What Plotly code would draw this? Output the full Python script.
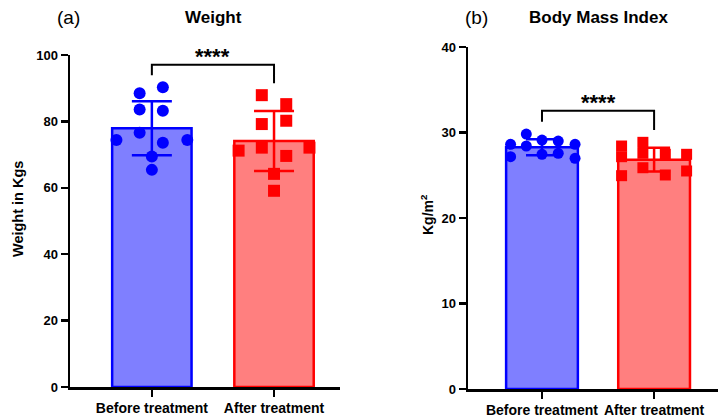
import numpy as np
import plotly.graph_objects as go

# ---- data ----
groups = ["Before treatment", "After treatment"]
weight_before = [88.5, 90.3, 83.6, 83.2, 76.6, 74.4, 73.6, 74.4, 69.4, 65.4]
weight_after = [87.9, 85.2, 79.2, 80.2, 71.2, 72.1, 69.6, 72.1, 64.2, 59.1]
bmi_before = [28.62, 27.17, 29.82, 28.42, 29.12, 27.45, 29.0, 27.57, 28.62, 26.98]
bmi_after = [28.42, 27.17, 24.95, 28.85, 27.57, 25.88, 27.45, 25.03, 27.45, 25.5]
weight_ticks = [0, 20, 40, 60, 80, 100]
bmi_ticks = [0, 10, 20, 30, 40]
significance = "****"

# horizontal scatter spread of the points within each bar (category units)
w_before_spread = [-0.1, 0.09, -0.1, 0.09, -0.1, -0.29, 0.09, 0.29, 0, 0]
w_after_spread = [-0.1, 0.1, -0.1, 0.1, -0.29, -0.1, 0.1, 0.29, 0, 0]
b_before_spread = [-0.28, -0.28, -0.14, -0.14, 0, 0, 0.145, 0.145, 0.295, 0.295]
b_after_spread = [-0.29, -0.29, -0.29, -0.1, -0.1, -0.1, 0.1, 0.1, 0.29, 0.29]

BLUE, RED = "#0000ff", "#ff0000"
BLUE_FILL, RED_FILL = "#7f7fff", "#ff7f7f"
FONT = "Arial, Liberation Sans, sans-serif"
W, H = 718, 416

fig = go.Figure()


def add_panel(xa, ya, before, after, bspread, aspread, bar_w, cap, msize):
    xref = "x" if xa == "" else "x" + xa
    yref = "y" if ya == "" else "y" + ya
    for i, (vals, spread, col, fill, sym) in enumerate([
        (before, bspread, BLUE, BLUE_FILL, "circle"),
        (after, aspread, RED, RED_FILL, "square"),
    ]):
        v = np.array(vals)
        m, sd = v.mean(), v.std(ddof=1)
        fig.add_trace(go.Bar(x=[i], y=[m], width=bar_w, marker=dict(color=fill, line=dict(color=col, width=2.5)),
                             xaxis=xref, yaxis=yref, showlegend=False, hoverinfo="skip"))
        fig.add_trace(go.Scatter(x=[i + s for s in spread], y=vals, mode="markers",
                                 marker=dict(symbol=sym, size=msize, color=col, line=dict(width=0)),
                                 xaxis=xref, yaxis=yref, showlegend=False))
        fig.add_trace(go.Scatter(x=[i], y=[m], mode="markers", marker=dict(size=1, color=col, opacity=0),
                                 error_y=dict(type="data", array=[sd], visible=True, color=col, thickness=2.5, width=cap),
                                 xaxis=xref, yaxis=yref, showlegend=False, hoverinfo="skip"))


add_panel("", "", weight_before, weight_after, w_before_spread, w_after_spread, 0.65, 20, 12)
add_panel("2", "2", bmi_before, bmi_after, b_before_spread, b_after_spread, 0.64, 16, 11)


def bracket(xref, yref, before, after, yrange, fsize, yshift):
    leg_b = max(before) + 0.036 * yrange
    leg_a = max(after) + 0.036 * yrange
    top = max(max(before), max(after)) + 0.068 * yrange
    fig.add_trace(go.Scatter(x=[0, 0, 1, 1], y=[leg_b, top, top, leg_a], mode="lines",
                             line=dict(color="black", width=2), xaxis=xref, yaxis=yref,
                             showlegend=False, hoverinfo="skip"))
    fig.add_annotation(x=0.5, y=top, xref=xref, yref=yref, text="<b>" + significance + "</b>",
                       showarrow=False, yanchor="bottom", yshift=yshift,
                       font=dict(family=FONT, size=fsize, color="black"))


bracket("x", "y", weight_before, weight_after, 100, 22, -6)
bracket("x2", "y2", bmi_before, bmi_after, 40, 22, -6)

axis_common = dict(showline=True, linecolor="black", linewidth=2.5, ticks="outside", tickcolor="black",
                   tickwidth=2.5, ticklen=7, showgrid=False, zeroline=False, automargin=False,
                   tickfont=dict(family=FONT, size=13, color="black", weight="bold"))
xfont = dict(family=FONT, size=14, color="black", weight="bold")

fig.update_layout(
    template="none",
    width=W, height=H, margin=dict(l=0, r=0, t=0, b=0, pad=0, autoexpand=False),
    plot_bgcolor="white", paper_bgcolor="white",
    xaxis=dict(domain=[70 / W, 340 / W], range=[-0.67, 1.54], tickvals=[0, 1], ticktext=groups, **axis_common),
    yaxis=dict(domain=[(H - 387) / H, (H - 55) / H], range=[0, 100], tickvals=weight_ticks, **axis_common),
    xaxis2=dict(domain=[468 / W, 1.0], range=[-0.66, 1.57], tickvals=[0, 1], ticktext=groups,
                anchor="y2", **axis_common),
    yaxis2=dict(domain=[(H - 389) / H, (H - 47) / H], range=[0, 40], tickvals=bmi_ticks,
                anchor="x2", **axis_common),
)
fig.update_layout(xaxis_tickfont=xfont, xaxis2_tickfont=xfont)

texts = [
    ("(a)", 68, 18, 19, False, 0),
    ("Weight", 213, 18, 17, True, 0),
    ("(b)", 476, 18, 19, False, 0),
    ("Body Mass Index", 598, 18, 17, True, 0),
    ("Weight in Kgs", 18, 209, 14.5, True, -90),
    ("Kg/m<sup>2</sup>", 427, 215, 14, True, -90),
]
for t, px, py, fs, bold, ang in texts:
    fig.add_annotation(x=px / W, y=1 - py / H, xref="paper", yref="paper", text=("<b>%s</b>" % t) if bold else t,
                       showarrow=False, xanchor="center", yanchor="middle", textangle=ang,
                       font=dict(family=FONT, size=fs, color="black"))

fig.write_html("out.html", config={"displayModeBar": False, "staticPlot": True},
               post_script="document.body.style.margin='0';document.body.style.overflow='hidden';")
